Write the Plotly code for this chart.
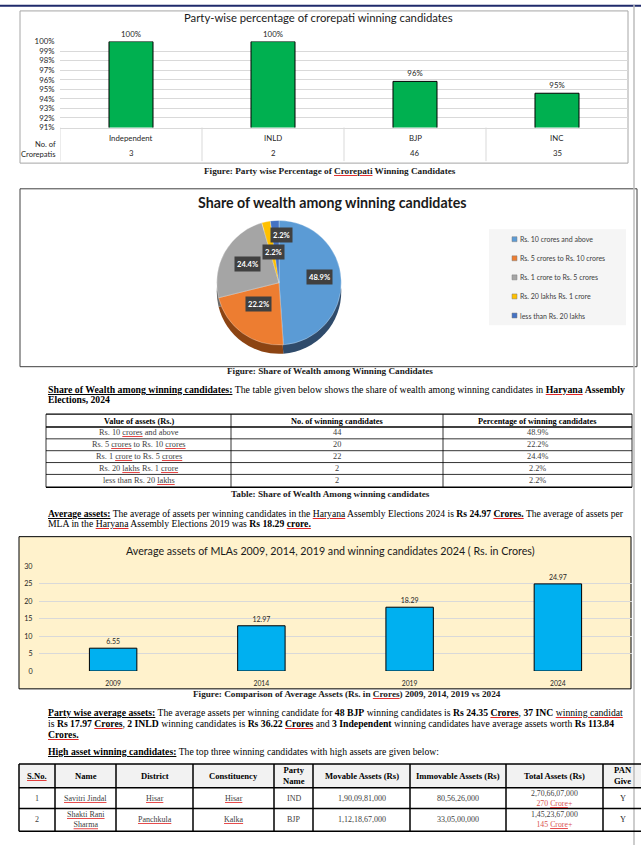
import plotly.graph_objects as go

W, H = 641, 850
def fx(px): return px / W
def fy(py): return 1 - py / H

SANS = "Lato, Carlito, Liberation Sans, sans-serif"
SERIF = "Liberation Serif, Times New Roman, serif"

# ---------------- data ----------------
parties = ["Independent", "INLD", "BJP", "INC"]
crorepati_pct = [100, 100, 95.83, 94.59]
crorepati_labels = ["100%", "100%", "96%", "95%"]
crorepati_count = ["3", "2", "46", "35"]
pct_ticks = [91, 92, 93, 94, 95, 96, 97, 98, 99, 100]

wealth_bands = ["Rs. 10 crores and above", "Rs. 5 crores to Rs. 10 crores",
                "Rs. 1 crore to Rs. 5 crores", "Rs. 20 lakhs Rs. 1 crore",
                "less than Rs. 20 lakhs"]
wealth_counts = [44, 20, 22, 2, 2]
wealth_pct = ["48.9%", "22.2%", "24.4%", "2.2%", "2.2%"]
wealth_colors = ["#5B9BD5", "#ED7D31", "#A5A5A5", "#FFC000", "#4472C4"]
wealth_side_colors = ["#2F4B6B", "#8C4413", "#6B6B6B", "#9A7400", "#26406E"]

table1_header = ["Value of assets (Rs.)", "No. of winning candidates", "Percentage of winning candidates"]

years = ["2009", "2014", "2019", "2024"]
avg_assets = [6.55, 12.97, 18.29, 24.97]

t2_header = ["S.No.", "Name", "District", "Constituency", "Party<br>Name",
             "Movable Assets (Rs)", "Immovable Assets (Rs)", "Total Assets (Rs)", "PAN<br>Give"]
t2_sno = ["1", "2"]
t2_name = ["Savitri Jindal", "Shakti Rani<br>Sharma"]
t2_district = ["Hisar", "Panchkula"]
t2_const = ["Hisar", "Kalka"]
t2_party = ["IND", "BJP"]
t2_movable = ["1,90,09,81,000", "1,12,18,67,000"]
t2_immovable = ["80,56,26,000", "33,05,00,000"]
t2_total = ["2,70,66,07,000", "1,45,23,67,000"]
t2_total_cr = ["270", "145"]
t2_pan = ["Y", "Y"]

RED = "#E02020"
def ru(word, color="#000000"):
    # word with a red (spell-check style) underline
    return f"<span style='color:{RED}'><u><span style='color:{color}'>{word}</span></u></span>"

GREY = "#404040"
table1_bands_fmt = [
    f"Rs. 10 {ru('crores', GREY)} and above",
    f"Rs. 5 {ru('crores', GREY)} to Rs. 10 {ru('crores', GREY)}",
    f"Rs. 1 {ru('crore', GREY)} to Rs. 5 {ru('crores', GREY)}",
    f"Rs. 20 {ru('lakhs', GREY)} Rs. 1 {ru('crore', GREY)}",
    f"less than Rs. 20 {ru('lakhs', GREY)}",
]

fig = go.Figure()

# ---------------- chart 1 ----------------
fig.add_trace(go.Bar(
    x=parties, y=crorepati_pct, width=0.31,
    marker=dict(color="#00B050", line=dict(color="#000000", width=1)),
    text=crorepati_labels, textposition="outside",
    textfont=dict(family=SANS, size=7.8, color="#262626"),
    cliponaxis=False, xaxis="x", yaxis="y", showlegend=False, hoverinfo="skip"))

# ---------------- pie (side/depth layer, then top surface) ----------------
fig.add_trace(go.Pie(
    labels=wealth_bands, values=wealth_counts, sort=False, direction="clockwise",
    rotation=0, marker=dict(colors=wealth_side_colors, line=dict(width=0)),
    textinfo="none", showlegend=False, hoverinfo="skip",
    domain=dict(x=[fx(216), fx(342)], y=[fy(353), fy(227)])))
fig.add_trace(go.Pie(
    labels=wealth_bands, values=wealth_counts, sort=False, direction="clockwise",
    rotation=0, marker=dict(colors=wealth_colors, line=dict(color="#FFFFFF", width=0.3)),
    textinfo="none", showlegend=False, hoverinfo="skip",
    domain=dict(x=[fx(216), fx(342)], y=[fy(344), fy(218)])))

# ---------------- chart 3 ----------------
fig.add_trace(go.Bar(
    x=years, y=avg_assets, width=0.32,
    marker=dict(color="#00B0F0", line=dict(color="#000000", width=1)),
    text=[f"{v:.2f}" for v in avg_assets], textposition="outside",
    textfont=dict(family=SANS, size=7, color="#262626"),
    cliponaxis=False, xaxis="x2", yaxis="y2", showlegend=False, hoverinfo="skip"))

shapes = []
ann = []

def T(x, y, s, size=9, color="#000000", family=SERIF, xa="left", ya="middle", **kw):
    ann.append(dict(x=fx(x), y=fy(y), xref="paper", yref="paper", text=s, showarrow=False,
                    xanchor=xa, yanchor=ya, font=dict(size=size, color=color, family=family), **kw))

def L(x0, y0, x1, y1, color="#000000", width=1):
    shapes.append(dict(type="line", xref="paper", yref="paper", x0=fx(x0), y0=fy(y0),
                       x1=fx(x1), y1=fy(y1), line=dict(color=color, width=width)))

def R(x0, y0, x1, y1, fill=None, color="#000000", width=1, layer="below"):
    shapes.append(dict(type="rect", xref="paper", yref="paper", x0=fx(x0), y0=fy(y0),
                       x1=fx(x1), y1=fy(y1), fillcolor=fill or "rgba(0,0,0,0)",
                       line=dict(color=color, width=width), layer=layer))

P = 9.7  # paragraph font size

# page decorations
L(0, 0.8, 641, 0.8, color="#1F2A6B", width=2)
L(634, 0, 634, 850, color="#BDBDBD", width=1.5)

# chart 1 box, title, data table
R(20, 6, 628, 160, color="#A6A6A6", width=1)
T(318, 13, "Party-wise percentage of crorepati winning candidates", size=11.3, color="#1A1A1A",
  family=SANS, xa="center")
for i, (p, c) in enumerate(zip(parties, crorepati_count)):
    ann.append(dict(x=i, y=fy(135), xref="x", yref="paper", text=p, showarrow=False,
                    xanchor="center", yanchor="middle",
                    font=dict(size=7.8, color="#262626", family=SANS)))
    ann.append(dict(x=i, y=fy(150), xref="x", yref="paper", text=c, showarrow=False,
                    xanchor="center", yanchor="middle",
                    font=dict(size=7.8, color="#262626", family=SANS)))
for b in [-0.5, 0.5, 1.5, 2.5]:
    shapes.append(dict(type="line", xref="x", yref="paper", x0=b, x1=b, y0=fy(124), y1=fy(158),
                       line=dict(color="#D9D9D9", width=1)))
T(58, 141, "No. of", size=7.6, color="#262626", family=SANS, xa="right")
T(58, 151, "Crorepatis", size=7.6, color="#262626", family=SANS, xa="right")
T(330, 168, "<b>Figure: Party wise Percentage of " + ru("Crorepati", "#1A1A1A") +
  " Winning Candidates</b>", size=9.2, color="#1A1A1A", xa="center")

# pie box, title, labels, legend
R(20, 186, 637, 366, color="#404040", width=1)
T(332, 200, "<b>Share of wealth among winning candidates</b>", size=14.2, color="#1A1A1A",
  family=SANS, xa="center")
pie_label_pos = [(319, 275), (258, 303), (247, 262), (273, 250), (281, 233)]
for (px, py), lab in zip(pie_label_pos, wealth_pct):
    T(px, py, "<b>" + lab + "</b>", size=7.6, color="#FFFFFF", family=SANS, xa="center",
      bgcolor="#404040", borderpad=2)
R(489, 227, 626, 324, fill="#F5F5F5", color="rgba(0,0,0,0)", width=0)
for i, (band, col) in enumerate(zip(wealth_bands, wealth_colors)):
    yy = 237 + i * 19.3
    R(512, yy - 2.5, 517, yy + 2.5, fill=col, color="#7F7F7F", width=0.5, layer="above")
    T(518, yy, band, size=7, color="#404040", family=SANS)
T(330, 370, "<b>Figure: Share of Wealth among Winning Candidates</b>", size=9.2, color="#1A1A1A",
  xa="center")

# paragraph 1
T(46, 389, "<b><u>Share of Wealth among winning candidates:</u></b> The table given below shows the "
  "share of wealth among winning candidates in <b>" + ru("Haryana") + " Assembly</b>", size=P + 0.1)
T(46, 399, "<b>Elections, 2024</b>", size=P)

# table 1
tcols = [46, 231, 443, 632]
trows = [414, 427, 439, 451, 463, 475, 488]
for i, y in enumerate(trows):
    L(46, y, 632, y, width=1.3 if i in (0, 1, len(trows) - 1) else 0.8)
for x in tcols:
    L(x, 414, x, 488, width=0.8)
for j, h in enumerate(table1_header):
    T((tcols[j] + tcols[j + 1]) / 2, 421, "<b>" + h + "</b>", size=8.3, xa="center")
for i in range(len(table1_bands_fmt)):
    yy = (trows[i + 1] + trows[i + 2]) / 2
    cells = [table1_bands_fmt[i], str(wealth_counts[i]), wealth_pct[i]]
    for j, c in enumerate(cells):
        T((tcols[j] + tcols[j + 1]) / 2, yy, c, size=8.3, color=GREY, xa="center")
T(330, 495, "<b>Table: Share of Wealth Among winning candidates</b>", size=9.2, color="#1A1A1A",
  xa="center")

# paragraph 2
T(46, 515, "<b><u>Average assets:</u></b> The average of assets per winning candidates in the "
  + ru("Haryana") + " Assembly Elections 2024 is <b>Rs 24.97 " + ru("Crores.") +
  "</b> The average of assets per", size=P - 0.1)
T(46, 525, "MLA in the " + ru("Haryana") + " Assembly Elections 2019 was <b>Rs 18.29 " +
  ru("crore.") + "</b>", size=P)

# chart 3 box + title
R(19, 538, 631, 692, fill="#FFF2CC", color="#000000", width=1)
T(330, 552, "Average assets of MLAs 2009, 2014, 2019 and winning candidates 2024 ( Rs. in Crores)",
  size=10.7, color="#1A1A1A", family=SANS, xa="center")
T(347, 697, "<b>Figure: Comparison of Average Assets (Rs. in " + ru("Crores", "#1A1A1A") +
  ") 2009, 2014, 2019 vs 2024</b>", size=9.2, color="#1A1A1A", xa="center")

# paragraph 3
T(46, 716, "<b><u>Party wise average assets:</u></b> The average assets per winning candidate for "
  "<b>48 BJP</b> winning candidates is <b>Rs 24.35 " + ru("Crores") + "</b>, <b>37 INC</b> " +
  ru("winning candidat"), size=P)
T(46, 727, "is <b>Rs 17.97 " + ru("Crores") + "</b>, <b>2 INLD</b> winning candidates is <b>Rs 36.22 "
  + ru("Crores") + "</b> and <b>3 Independent</b> winning candidates have average assets worth "
  "<b>Rs 113.84</b>", size=P)
T(46, 738, "<b>" + ru("Crores.") + "</b>", size=P)
T(46, 755, "<b><u>High asset winning candidates:</u></b> The top three winning candidates with "
  "high assets are given below:", size=P)

# table 2
c2 = [19, 55, 116, 193, 274, 313, 410, 506, 603, 660]
r2 = [768, 792, 813, 836]
R(19, 768, 660, 792, fill="#F2F2F2", color="rgba(0,0,0,0)", width=0)
for y in r2:
    L(19, y, 660, y, width=1.5)
for x in c2:
    L(x, 768, x, 836, width=1.5)
for j, h in enumerate(t2_header):
    xc = (c2[j] + c2[j + 1]) / 2 if j < len(t2_header) - 1 else 623
    htxt = ru(h) if j == 0 else h
    T(xc, 780, "<b>" + htxt + "</b>", size=8.6, xa="center")
cols = [t2_sno, t2_name, t2_district, t2_const, t2_party, t2_movable, t2_immovable]
underlined_cols = {1, 2, 3}
for i in range(2):
    yy = (r2[i + 1] + r2[i + 2]) / 2
    for j, col in enumerate(cols):
        v = col[i]
        if j in underlined_cols:
            v = "<br>".join(ru(part, GREY) for part in v.split("<br>"))
        T((c2[j] + c2[j + 1]) / 2, yy, v, size=8, color=GREY, xa="center")
    T((c2[7] + c2[8]) / 2, yy, t2_total[i] + "<br><span style='color:#D9534F'>" + t2_total_cr[i] +
      " " + ru("Crore", "#D9534F") + "+</span>", size=7.8, color=GREY, xa="center")
    T(623, yy, t2_pan[i], size=8.3, color="#262626", xa="center")

fig.update_layout(
    width=W, height=H, margin=dict(l=0, r=0, t=0, b=0),
    paper_bgcolor="#FFFFFF", plot_bgcolor="rgba(0,0,0,0)",
    shapes=shapes, annotations=ann, showlegend=False,
    xaxis=dict(domain=[fx(60), fx(628)], anchor="y", range=[-0.5, 3.5], showticklabels=False,
               showgrid=False, zeroline=False, showline=True, linecolor="#D9D9D9", ticks=""),
    yaxis=dict(domain=[fy(124), fy(37)], anchor="x", range=[91, 100],
               tickvals=pct_ticks, ticktext=[f"{v}%" for v in pct_ticks],
               tickfont=dict(family=SANS, size=7.8, color="#262626"),
               ticks="outside", ticklen=3, tickcolor="rgba(0,0,0,0)",
               showgrid=True, gridcolor="#D9D9D9", gridwidth=1, zeroline=False),
    xaxis2=dict(domain=[fx(39), fx(632)], anchor="y2", range=[-0.5, 3.5],
                tickfont=dict(family=SANS, size=6.8, color="#262626"), showgrid=False,
                ticks="outside", ticklen=6, tickcolor="rgba(0,0,0,0)",
                zeroline=False, showline=False),
    yaxis2=dict(domain=[fy(674), fy(568)], anchor="x2", range=[0, 30], dtick=5,
                tickfont=dict(family=SANS, size=7.2, color="#262626"),
                ticks="outside", ticklen=4, tickcolor="rgba(0,0,0,0)",
                showgrid=True, gridcolor="#D9D9D9", gridwidth=1, zeroline=False),
)

fig.write_html("out.html", config={"displayModeBar": False},
               post_script="document.body.style.margin='0';")
